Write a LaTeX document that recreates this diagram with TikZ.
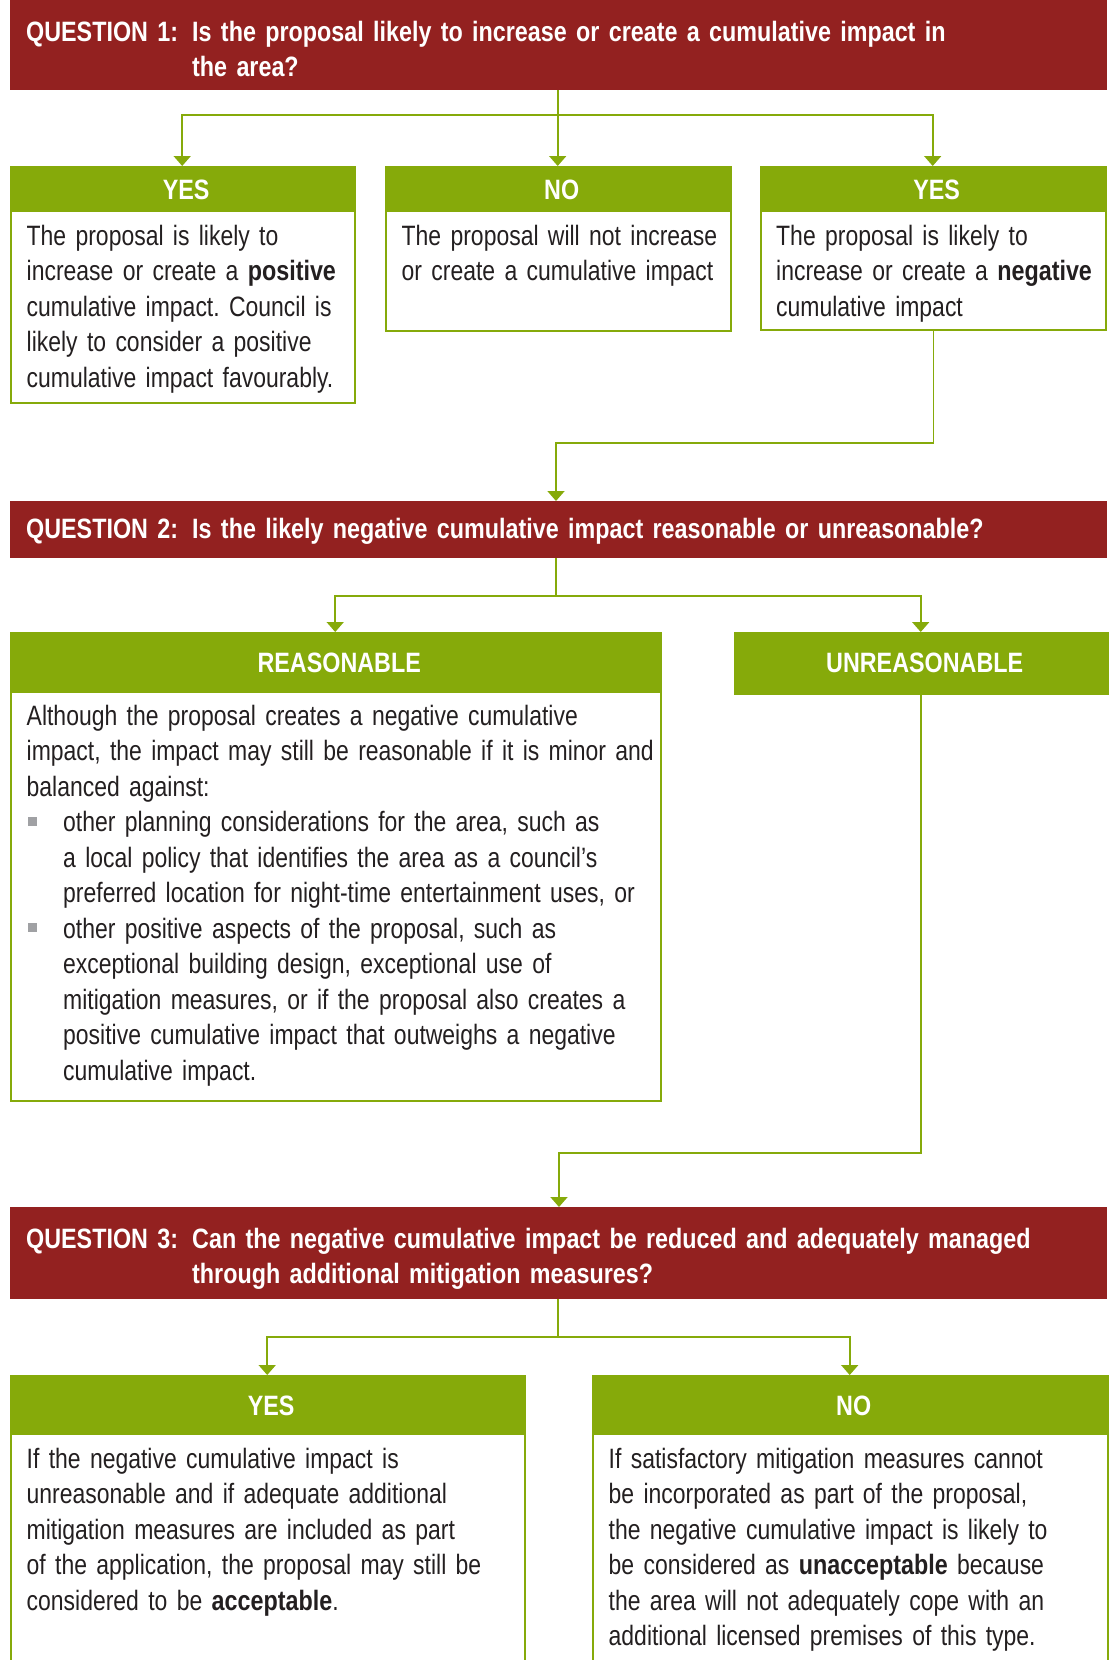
\documentclass[tikz,border=0pt]{standalone}
\usepackage{fontspec}
\setmainfont{Liberation Sans}[FakeStretch=0.82, BoldFeatures={FakeStretch=0.833}]
\usetikzlibrary{arrows.meta}
\frenchspacing
\definecolor{qred}{RGB}{147,33,32}
\definecolor{agreen}{RGB}{134,170,10}
\definecolor{ink}{RGB}{35,31,32}
\definecolor{bulletgray}{RGB}{160,161,164}
\newcommand{\sz}{\fontsize{28}{35.5}\selectfont\setlength{\normalbaselineskip}{35.5pt}}
\newcommand{\sqitem}{\par\hangindent=36.5pt\hangafter=1\noindent\makebox[36.5pt][l]{\hspace{1.5pt}\textcolor{bulletgray}{\rule[6pt]{9pt}{9pt}}}}
\tikzset{
  qbar/.style={fill=qred, inner sep=0, anchor=north west, minimum width=1097},
  qtext/.style={text=white, font=\sz\bfseries, inner sep=0, anchor=base west, text width=900, align=left},
  boxline/.style={draw=agreen, line width=1.8pt, inner sep=0, anchor=north west},
  head/.style={fill=agreen, text=white, font=\sz\bfseries, inner sep=0, anchor=north west, text height=20pt, text depth=0pt},
  body/.style={text=ink, inner sep=0, anchor=base west, text width=#1, align=left, execute at begin node=\sz},
  link/.style={draw=agreen, line width=1.8pt},
  pointer/.style={link, -{Triangle[width=17pt, length=10pt]}},
}
\begin{document}
\begin{tikzpicture}[x=1pt, y=-1pt, font=\sz]
\useasboundingbox (0,0) rectangle (1112,1660);
\clip (0,0) rectangle (1112,1660);
% question bars
\node[qbar, minimum height=90] (q1) at (10,0) {};
\node[qbar, minimum height=57] (q2) at (10,501) {};
\node[qbar, minimum height=92] (q3) at (10,1207) {};
\node[qtext, text width=160] (q1_lab) at (26,41) {QUESTION 1:};
\node[qtext] (q1_txt) at (192,41) {Is the proposal likely to increase or create a cumulative impact in\\the area?};
\node[qtext, text width=160] (q2_lab) at (26,538) {QUESTION 2:};
\node[qtext] (q2_txt) at (192,538) {Is the likely negative cumulative impact reasonable or unreasonable?};
\node[qtext, text width=160] (q3_lab) at (26,1248) {QUESTION 3:};
\node[qtext] (q3_txt) at (192,1248) {Can the negative cumulative impact be reduced and adequately managed\\through additional mitigation measures?};
% answer boxes: name/left/top/width/header height/box height/label
\foreach \name/\x/\y/\w/\hh/\bh/\lab in {
  yes1/10/166/344/46/236/YES, no1/385/166/345/46/164/NO, yes2/760/166/345/46/163/YES,
  reas/10/632/650/61/468/REASONABLE, unreas/734/632/373/61/61/UNREASONABLE,
  yes3/10/1375/514/60/310/YES, no3/592/1375/515/60/310/NO}
{
  % contour
  \node[boxline, minimum width=\w, minimum height=\bh] (\name_box) at (\x,\y) {};
  % header
  \node[head, minimum width=\w, minimum height=\hh] (\name) at (\x,\y) {\hspace*{8pt}\lab};
}
% texts
\node[body=370] (yes1_txt) at (26.5,245) {The proposal is likely to\\
increase or create a \textbf{positive}\\
cumulative impact. Council is\\
likely to consider a positive\\
cumulative impact favourably.};
\node[body=370] (no1_txt) at (401.5,245) {The proposal will not increase\\
or create a cumulative impact};
\node[body=370] (yes2_txt) at (776,245) {The proposal is likely to\\
increase or create a \textbf{negative}\\
cumulative impact};
\node[body=700] (reas_txt) at (26.5,725) {Although the proposal creates a negative cumulative\\
impact, the impact may still be reasonable if it is minor and\\
balanced against:
\sqitem other planning considerations for the area, such as\newline
a local policy that identifies the area as a council’s\newline
preferred location for night-time entertainment uses, or
\sqitem other positive aspects of the proposal, such as\newline
exceptional building design, exceptional use of\newline
mitigation measures, or if the proposal also creates a\newline
positive cumulative impact that outweighs a negative\newline
cumulative impact.\par};
\node[body=560] (yes3_txt) at (26.5,1468) {If the negative cumulative impact is\\
unreasonable and if adequate additional\\
mitigation measures are included as part\\
of the application, the proposal may still be\\
considered to be \textbf{acceptable}.};
\node[body=560] (no3_txt) at (608.5,1468) {If satisfactory mitigation measures cannot\\
be incorporated as part of the proposal,\\
the negative cumulative impact is likely to\\
be considered as \textbf{unacceptable} because\\
the area will not adequately cope with an\\
additional licensed premises of this type.};
% joints of the connectors
\coordinate (split1) at (557.5,115);
\coordinate (bend2) at (556,443);
\coordinate (split2) at (556,596);
\coordinate (bend3) at (559,1153);
\coordinate (split3) at (558,1337);
% question 1
\draw[pointer] (no1.north |- q1.south) -- (no1.north);
\draw[pointer] (split1) -| (yes1.north);
\draw[pointer] (split1) -| (yes2.north);
\draw[pointer] (yes2_box.south) |- (bend2) -- (bend2 |- q2.north);
% question 2
\draw[link] (split2 |- q2.south) -- (split2);
\draw[pointer] (split2) -| (reas.north);
\draw[pointer] (split2) -| (unreas.north);
\draw[pointer] (unreas.south) |- (bend3) -- (bend3 |- q3.north);
% question 3
\draw[link] (split3 |- q3.south) -- (split3);
\draw[pointer] (split3) -| (yes3.north);
\draw[pointer] (split3) -| (no3.north);
\end{tikzpicture}
\end{document}
